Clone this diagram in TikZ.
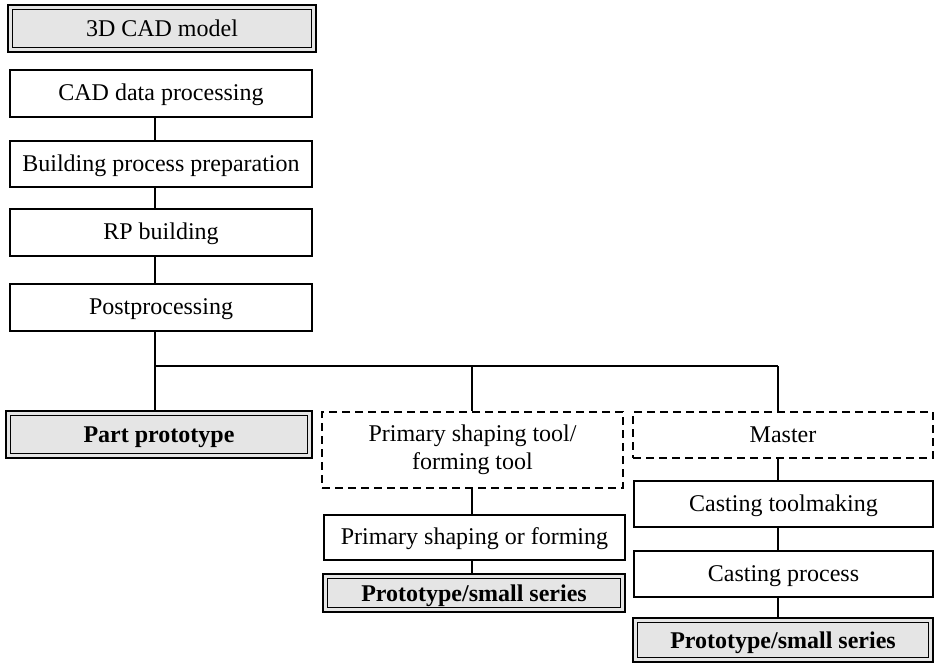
\documentclass[tikz,border=0pt]{standalone}
\usepackage{fontspec}
\setmainfont{Liberation Serif}
\begin{document}
\begin{tikzpicture}[x=1pt,y=-1pt,
  box/.style={draw, line width=1.2pt, fill=white, inner sep=0pt, align=center,
    text height=19pt, text depth=5pt,
    font=\fontsize{24}{28}\selectfont},
  dashbox/.style={box, line width=1.7pt, dash pattern=on 8pt off 5pt},
  endbox/.style={box, line width=2pt, fill=black!10,
    text height=20pt, text depth=4pt,
    font=\fontsize{24}{28}\selectfont\bfseries,
    path picture={\draw[line width=1pt]
      ([shift={(4.5pt,-4.5pt)}]path picture bounding box.north west) rectangle
      ([shift={(-4.5pt,4.5pt)}]path picture bounding box.south east);}},
  plainendbox/.style={endbox, font=\fontsize{24}{28}\selectfont},
  link/.style={line width=1.2pt}]
\useasboundingbox (0,0) rectangle (935,664);

% main process chain
\node[plainendbox, minimum width=308pt, minimum height=47pt] (cad3d) at (162,28.5) {3D CAD model};
\node[box, minimum width=302pt, minimum height=47pt] (cad)  at (161,93.5)  {CAD data processing};
\node[box, minimum width=302pt, minimum height=46pt] (bpp)  at (161,164)   {Building process preparation};
\node[box, minimum width=302pt, minimum height=47pt] (rp)   at (161,232.5) {RP building};
\node[box, minimum width=302pt, minimum height=47pt] (post) at (161,307.5) {Postprocessing};

% branch outcomes
\node[endbox, minimum width=306pt, minimum height=47pt] (part) at (159,434.5) {Part prototype};

\node[dashbox, text height=, text depth=, minimum width=301pt, minimum height=76pt] (ptool) at (472.5,450) {Primary shaping tool/\\forming tool};
\node[box, minimum width=301pt, minimum height=45pt] (pform) at (474.5,537.5) {Primary shaping or forming};
\node[endbox, minimum width=302pt, minimum height=38pt] (proto1) at (474,593) {Prototype/small series};

\node[dashbox, minimum width=300pt, minimum height=46pt] (master) at (783,435) {Master};
\node[box, minimum width=299pt, minimum height=46pt] (ctool) at (783.5,504) {Casting toolmaking};
\node[box, minimum width=299pt, minimum height=46pt] (cproc) at (783.5,574) {Casting process};
\node[endbox, minimum width=300pt, minimum height=44pt] (proto2) at (783,640) {Prototype/small series};

% junction points of the branching
\coordinate (j)  at (155,366);
\coordinate (jm) at (472,366);
\coordinate (jr) at (778,366);

% connectors
\draw[link] (cad.south -| j)  -- (bpp.north -| j);
\draw[link] (bpp.south -| j)  -- (rp.north -| j);
\draw[link] (rp.south -| j)   -- (post.north -| j);
\draw[link] (post.south -| j) -- (part.north -| j);
\draw[link] (j) -- (jr);
\draw[link] (jm) -- (ptool.north -| jm);
\draw[link] (ptool.south -| jm) -- (pform.north -| jm);
\draw[link] (pform.south -| jm) -- (proto1.north -| jm);
\draw[link] (jr) -- (master.north -| jr);
\draw[link] (master.south -| jr) -- (ctool.north -| jr);
\draw[link] (ctool.south -| jr) -- (cproc.north -| jr);
\draw[link] (cproc.south -| jr) -- (proto2.north -| jr);
\end{tikzpicture}
\end{document}
